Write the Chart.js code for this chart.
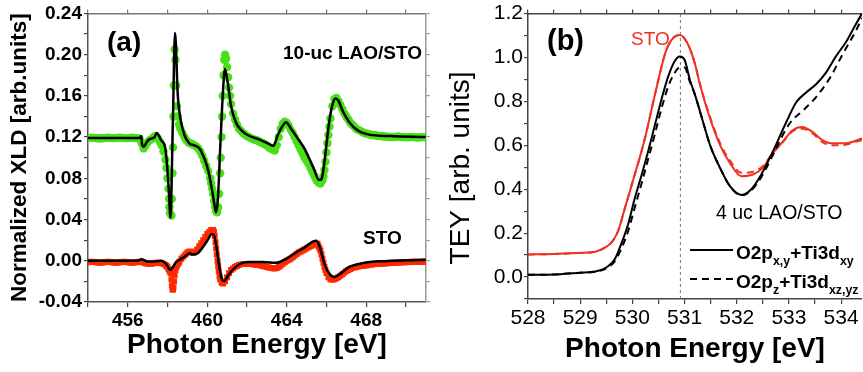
<!DOCTYPE html>
<html>
<head>
<meta charset="utf-8">
<script src="https://cdn.jsdelivr.net/npm/chart.js@4.4.1/dist/chart.umd.min.js"></script>
<style>
  body { margin: 0; background: #fff; width: 863px; height: 372px; overflow: hidden; position: relative;
         font-family: "Liberation Sans", Arial, sans-serif; }
  #wrapA { position: absolute; left: 0; top: 0; width: 430px; height: 372px; }
  #wrapB { position: absolute; left: 430px; top: 0; width: 433px; height: 372px; }
  .note { position: absolute; line-height: 1; white-space: nowrap; transform: translateY(-50%); color: #000; }
  .note sub { font-size: 0.65em; vertical-align: -0.5em; line-height: 0; }
  .key { position: absolute; height: 2px; background: #000; }
  .key.dash { background: repeating-linear-gradient(to right, #000 0 7px, transparent 7px 12px); }
</style>
</head>
<body>
<div id="wrapA"><canvas id="chartA" width="430" height="372"></canvas></div>
<div id="wrapB"><canvas id="chartB" width="433" height="372"></canvas></div>

<div class="note" style="left:107px; top:42px; font-size:28px; font-weight:bold;">(a)</div>
<div class="note" style="left:283px; top:52px; font-size:19px; font-weight:bold;">10-uc LAO/STO</div>
<div class="note" style="left:363px; top:237px; font-size:19px; font-weight:bold;">STO</div>

<div class="note" style="left:547px; top:40px; font-size:29px; font-weight:bold;">(b)</div>
<div class="note" style="left:631px; top:38px; font-size:19px; color:#f03020;">STO</div>
<div class="note" style="left:716px; top:213px; font-size:19.5px;">4 uc LAO/STO</div>
<div class="key" style="left:690px; top:249px; width:43px;"></div>
<div class="note" style="left:736px; top:252px; font-size:19px; font-weight:bold;">O2p<sub>x,y</sub>+Ti3d<sub>xy</sub></div>
<div class="key dash" style="left:690px; top:278px; width:43px;"></div>
<div class="note" style="left:736px; top:281px; font-size:19px; font-weight:bold;">O2p<sub>z</sub>+Ti3d<sub>xz,yz</sub></div>

<script>
// ---- panel (a): XLD, 10-uc LAO/STO (offset by 0.12) and STO ----
const lao10DataX = [454.0, 454.1, 454.2, 454.3, 454.4, 454.5, 454.6, 454.7, 454.8, 454.9, 455.0, 455.1, 455.2, 455.3,
  455.4, 455.5, 455.6, 455.7, 455.8, 455.9, 456.0, 456.1, 456.2, 456.3, 456.4, 456.5, 456.6,
  456.7, 456.8, 456.9, 457.0, 457.1, 457.2, 457.3, 457.4, 457.5, 457.6, 457.7, 457.8, 457.9, 457.95, 458.0, 458.05,
  458.08, 458.1, 458.13, 458.2, 458.22, 458.25, 458.28, 458.3, 458.32, 458.36, 458.4, 458.44, 458.48, 458.52, 458.58,
  458.65, 458.75, 458.85, 458.95, 459.05, 459.15, 459.25, 459.35, 459.45, 459.55, 459.65, 459.75, 459.85, 459.95,
  460.05, 460.15, 460.2, 460.25, 460.3, 460.35, 460.4, 460.45, 460.5, 460.55, 460.6, 460.65, 460.68, 460.72, 460.75,
  460.78, 460.82, 460.86, 460.9, 460.95, 461.0, 461.05, 461.1, 461.15, 461.2, 461.3, 461.4, 461.5, 461.6, 461.7,
  461.8, 461.9, 462.0, 462.1, 462.2, 462.3, 462.4, 462.5, 462.6, 462.7, 462.8, 462.9, 463.0, 463.1, 463.2, 463.3,
  463.4, 463.5, 463.6, 463.7, 463.8, 463.9, 464.0, 464.1, 464.2, 464.3, 464.4, 464.5, 464.6, 464.7, 464.8, 464.9,
  465.0, 465.1, 465.2, 465.3, 465.4, 465.5, 465.6, 465.7, 465.8, 465.85, 465.9, 465.95, 466.0, 466.05, 466.1, 466.15,
  466.2, 466.3, 466.4, 466.5, 466.6, 466.7, 466.8, 466.9, 467.0, 467.1, 467.2, 467.3, 467.4, 467.5, 467.6, 467.7,
  467.8, 467.9, 468.0, 468.1, 468.2, 468.3, 468.4, 468.5, 468.6, 468.7, 468.8, 468.9, 469.0, 469.1, 469.2, 469.3,
  469.4, 469.5, 469.6, 469.7, 469.8, 469.9, 470.0, 470.1, 470.2, 470.3, 470.4, 470.5, 470.6, 470.7, 470.8, 470.9, 471.0];
const lao10DataY = [0.119, 0.1192, 0.1195, 0.119, 0.119, 0.1188, 0.1185, 0.1188, 0.119, 0.1192, 0.1195, 0.1192, 0.119, 0.119,
  0.119, 0.1192, 0.1195, 0.1192, 0.119, 0.119, 0.119, 0.1192, 0.1195, 0.1192, 0.119, 0.1188, 0.1185,
  0.114, 0.109, 0.112, 0.115, 0.117, 0.118, 0.120, 0.121, 0.119, 0.116, 0.112, 0.106, 0.098, 0.090, 0.080, 0.070,
  0.060, 0.052, 0.046, 0.044, 0.060, 0.085, 0.110, 0.140, 0.170, 0.205, 0.195, 0.170, 0.150, 0.140, 0.132,
  0.128, 0.124, 0.120, 0.117, 0.115, 0.114, 0.113, 0.112, 0.111, 0.109, 0.106, 0.102, 0.097, 0.092,
  0.087, 0.080, 0.075, 0.070, 0.065, 0.058, 0.052, 0.048, 0.047, 0.052, 0.065, 0.085, 0.100, 0.120, 0.140,
  0.160, 0.180, 0.195, 0.200, 0.196, 0.188, 0.178, 0.168, 0.160, 0.152, 0.143, 0.137, 0.132, 0.128, 0.126,
  0.124, 0.1225, 0.121, 0.120, 0.119, 0.118, 0.1175, 0.117, 0.116, 0.115, 0.114, 0.113, 0.112, 0.110, 0.109, 0.108,
  0.107, 0.112, 0.120, 0.128, 0.133, 0.135, 0.134, 0.131, 0.127, 0.124, 0.120, 0.116, 0.112, 0.108, 0.104, 0.100,
  0.097, 0.094, 0.090, 0.086, 0.082, 0.078, 0.076, 0.075, 0.078, 0.082, 0.088, 0.096, 0.105, 0.114, 0.122, 0.130,
  0.138, 0.150, 0.157, 0.158, 0.155, 0.151, 0.147, 0.143, 0.140, 0.137, 0.134, 0.132, 0.130, 0.128, 0.127, 0.126,
  0.125, 0.124, 0.1235, 0.123, 0.1225, 0.122, 0.122, 0.1215, 0.121, 0.121, 0.1208, 0.1205, 0.1205, 0.1202, 0.120, 0.120,
  0.120, 0.1202, 0.1205, 0.1202, 0.120, 0.120, 0.1198, 0.120, 0.120, 0.1202, 0.120, 0.1198, 0.1195, 0.1198, 0.120, 0.120, 0.120];

const lao10FitX = [454.0, 456.6, 456.68, 456.72, 456.81, 456.95, 457.1, 457.35, 457.46, 457.68, 457.88, 457.98, 458.07,
  458.15, 458.27, 458.38, 458.52, 458.65, 458.85, 459.1, 459.35, 459.61, 459.86, 460.06, 460.22, 460.36, 460.44,
  460.53, 460.66, 460.78, 460.89, 461.03, 461.2, 461.45, 461.7, 462.03, 462.63, 463.05, 463.33, 463.55, 463.8, 463.97,
  464.22, 464.56, 464.89, 465.14, 465.39, 465.61, 465.73, 465.9, 466.11, 466.31, 466.45, 466.61, 466.81, 467.15,
  467.57, 468.15, 469.16, 471.0];
const lao10FitY = [0.1192, 0.1192, 0.121, 0.113, 0.1106, 0.115, 0.118, 0.120, 0.124, 0.117, 0.110, 0.093, 0.067,
  0.042, 0.134, 0.221, 0.160, 0.138, 0.122, 0.114, 0.112, 0.109, 0.099, 0.087, 0.071, 0.055, 0.047,
  0.058, 0.112, 0.160, 0.186, 0.173, 0.150, 0.134, 0.127, 0.122, 0.1176, 0.114, 0.1115, 0.122, 0.131, 0.1345,
  0.128, 0.1185, 0.109, 0.099, 0.088, 0.0786, 0.0786, 0.096, 0.131, 0.152, 0.1575, 0.155, 0.1457, 0.1345,
  0.1265, 0.1224, 0.121, 0.120];

const stoDataX = [454.0, 454.1, 454.2, 454.3, 454.4, 454.5, 454.6, 454.7, 454.8, 454.9, 455.0, 455.1, 455.2, 455.3,
  455.4, 455.5, 455.6, 455.7, 455.8, 455.9, 456.0, 456.1, 456.2, 456.3, 456.4, 456.5, 456.6,
  456.7, 456.8, 456.9, 457.0, 457.1, 457.2, 457.3, 457.4, 457.5, 457.6, 457.7, 457.8, 457.9, 457.95, 458.0, 458.05,
  458.1, 458.15, 458.2, 458.22, 458.25, 458.28, 458.3, 458.33, 458.36, 458.4, 458.45, 458.5, 458.55, 458.6, 458.7,
  458.8, 458.9, 459.0, 459.1, 459.2, 459.3, 459.4, 459.5, 459.6, 459.7, 459.8, 459.9, 460.0, 460.1, 460.2, 460.3,
  460.34, 460.38, 460.42, 460.45, 460.48, 460.52, 460.55, 460.58, 460.62, 460.65, 460.72, 460.8, 460.9, 461.0, 461.1,
  461.2, 461.3, 461.4, 461.5, 461.6, 461.7, 461.8, 461.9, 462.0, 462.1, 462.2, 462.3, 462.4, 462.5, 462.6, 462.7,
  462.8, 462.9, 463.0, 463.1, 463.2, 463.3, 463.4, 463.5, 463.6, 463.7, 463.8, 463.9, 464.0, 464.1, 464.2, 464.3,
  464.4, 464.5, 464.6, 464.7, 464.8, 464.9, 465.0, 465.1, 465.2, 465.3, 465.4, 465.5, 465.55, 465.6, 465.65, 465.7,
  465.75, 465.8, 465.85, 465.9, 465.95, 466.0, 466.1, 466.2, 466.3, 466.4, 466.5, 466.6, 466.7, 466.8, 466.9, 467.0,
  467.1, 467.2, 467.3, 467.4, 467.5, 467.6, 467.7, 467.8, 467.9, 468.0, 468.1, 468.2, 468.3, 468.4, 468.5, 468.6,
  468.7, 468.8, 468.9, 469.0, 469.1, 469.2, 469.3, 469.4, 469.5, 469.6, 469.7, 469.8, 469.9, 470.0, 470.1, 470.2,
  470.3, 470.4, 470.5, 470.6, 470.7, 470.8, 470.9, 471.0];
const stoDataY = [-0.0015, -0.0012, -0.001, -0.0012, -0.0015, -0.0018, -0.002, -0.0018, -0.0015, -0.0012, -0.001, -0.0012, -0.0015, -0.0018,
  -0.002, -0.0018, -0.0015, -0.0012, -0.001, -0.0012, -0.0015, -0.0018, -0.002, -0.0018, -0.0015, -0.0012, -0.001,
  -0.0012, -0.002, -0.0025, -0.003, -0.003, -0.003, -0.0025, -0.002, -0.002, -0.002, -0.0025, -0.003, -0.004, -0.005, -0.006, -0.008,
  -0.010, -0.012, -0.018, -0.024, -0.028, -0.028, -0.026, -0.020, -0.014, -0.009, -0.006, -0.004, -0.0025, -0.001, 0.002,
  0.004, 0.006, 0.008, 0.009, 0.008, 0.008, 0.009, 0.011, 0.014, 0.017, 0.020, 0.023, 0.026, 0.028, 0.030, 0.030,
  0.028, 0.024, 0.018, 0.012, 0.006, 0.000, -0.005, -0.010, -0.015, -0.018, -0.021, -0.022, -0.020, -0.016, -0.012,
  -0.009, -0.0075, -0.006, -0.005, -0.004, -0.0035, -0.003, -0.003, -0.003, -0.003, -0.003, -0.0035, -0.004, -0.004, -0.004, -0.0045,
  -0.005, -0.0055, -0.006, -0.0065, -0.007, -0.0072, -0.0075, -0.007, -0.006, -0.0045, -0.003, -0.0015, 0.000, 0.001, 0.002, 0.0035,
  0.005, 0.0065, 0.008, 0.009, 0.010, 0.011, 0.012, 0.013, 0.014, 0.015, 0.016, 0.0165, 0.0165, 0.014, 0.012, 0.010,
  0.006, 0.002, -0.002, -0.006, -0.009, -0.012, -0.016, -0.018, -0.0185, -0.018, -0.017, -0.016, -0.0145, -0.013, -0.0115, -0.010,
  -0.009, -0.008, -0.007, -0.0065, -0.006, -0.0055, -0.005, -0.005, -0.0045, -0.0045, -0.004, -0.004, -0.0035, -0.0035, -0.003, -0.003,
  -0.003, -0.0028, -0.0026, -0.0025, -0.0024, -0.0022, -0.002, -0.002, -0.002, -0.0018, -0.0016, -0.0015, -0.0015, -0.0015, -0.0012, -0.0012,
  -0.001, -0.001, -0.001, -0.0012, -0.001, -0.001, -0.001, -0.001];

const stoFitX = [454.0, 456.5, 456.68, 457.0, 457.35, 457.68, 457.93, 458.15, 458.27, 458.43, 458.69, 458.94, 459.1,
  459.27, 459.52, 459.77, 460.02, 460.22, 460.32, 460.44, 460.61, 460.73, 460.86, 461.03, 461.28, 461.61, 462.03,
  462.8, 463.47, 463.97, 464.47, 464.97, 465.31, 465.48, 465.64, 465.9, 466.15, 466.4, 466.65, 467.15, 467.82,
  468.82, 471.0];
const stoFitY = [0.0, 0.0, 0.0015, -0.0007, -0.0007, 0.0, -0.003, -0.009, -0.006, -0.0014, 0.0018, 0.005, 0.0073,
  0.006, 0.0073, 0.013, 0.020, 0.0258, 0.0258, 0.0163, -0.006, -0.0173, -0.0196, -0.015, -0.0087, -0.0036, -0.0013,
  -0.0013, -0.002, 0.0019, 0.008, 0.014, 0.0185, 0.0195, 0.0146, -0.003, -0.0125, -0.0157, -0.0132, -0.006, -0.0023,
  -0.0004, 0.0009];

const xTicksA = [456, 460, 464, 468];

// ---- panel (b): O K-edge TEY ----
const laoXyX = [528.0, 528.5, 529.0, 529.29, 529.54, 529.67, 529.79, 529.92, 530.05, 530.18, 530.3, 530.43, 530.56,
  530.69, 530.81, 530.91, 531.0, 531.1, 531.2, 531.3, 531.49, 531.68, 531.87, 532.09, 532.28, 532.47, 532.69, 532.95,
  533.14, 533.33, 533.52, 533.71, 533.9, 534.1, 534.29, 534.4];
const laoXyY = [0.010, 0.012, 0.020, 0.025, 0.050, 0.085, 0.153, 0.242, 0.362, 0.467, 0.571, 0.691, 0.811,
  0.916, 0.983, 1.005, 0.990, 0.900, 0.830, 0.751, 0.600, 0.497, 0.414, 0.374, 0.400, 0.467, 0.571, 0.706,
  0.796, 0.841, 0.878, 0.931, 1.005, 1.073, 1.155, 1.200];

const laoZX = [528.0, 528.5, 529.0, 529.29, 529.54, 529.67, 529.79, 529.92, 530.05, 530.18, 530.3, 530.43, 530.56,
  530.69, 530.81, 530.91, 531.0, 531.1, 531.2, 531.3, 531.49, 531.68, 531.87, 532.09, 532.28, 532.47, 532.69, 533.0,
  533.3, 533.52, 533.78, 534.03, 534.29, 534.4];
const laoZY = [0.010, 0.012, 0.020, 0.024, 0.045, 0.075, 0.130, 0.210, 0.320, 0.430, 0.535, 0.650, 0.770,
  0.870, 0.930, 0.955, 0.955, 0.890, 0.830, 0.751, 0.600, 0.497, 0.414, 0.372, 0.395, 0.455, 0.555, 0.695,
  0.765, 0.820, 0.905, 1.015, 1.125, 1.180];

const stoXyX = [528.0, 528.5, 529.0, 529.29, 529.48, 529.61, 529.73, 529.86, 529.99, 530.12, 530.24, 530.37, 530.5,
  530.63, 530.75, 530.91, 531.07, 531.2, 531.3, 531.49, 531.68, 531.87, 532.09, 532.31, 532.5, 532.69, 532.88,
  533.07, 533.26, 533.45, 533.64, 533.83, 534.08, 534.4];
const stoXyY = [0.103, 0.105, 0.110, 0.115, 0.135, 0.160, 0.212, 0.317, 0.422, 0.527, 0.631, 0.766, 0.900,
  1.020, 1.080, 1.103, 1.058, 0.970, 0.871, 0.721, 0.601, 0.519, 0.459, 0.467, 0.497, 0.564, 0.616,
  0.669, 0.684, 0.661, 0.624, 0.609, 0.609, 0.631];
const stoZY = [0.103, 0.105, 0.110, 0.115, 0.135, 0.160, 0.212, 0.317, 0.422, 0.527, 0.631, 0.766, 0.900,
  1.020, 1.080, 1.103, 1.058, 0.970, 0.875, 0.728, 0.610, 0.530, 0.475, 0.480, 0.505, 0.566, 0.614,
  0.664, 0.676, 0.655, 0.615, 0.600, 0.603, 0.625];

const peakLine = 530.92;

const FONT = '"Liberation Sans", Arial, sans-serif';
const GREEN = '#48e018';
const RED_A = '#ff2800';
const RED_B = '#f03020';

function pts(xs, ys) {
    return xs.map((x, i) => ({ x: x, y: ys[i] }));
}

function frameAxis(pos, min, max, step, size, color) {
    return {
        type: 'linear', position: pos, min: min, max: max,
        ticks: { display: false, stepSize: step, includeBounds: false },
        grid: { drawOnChartArea: false, drawTicks: true, tickLength: 4, color: color, lineWidth: 1.2 },
        border: { display: true, color: color, width: 1.5 },
        afterFit: s => { if (s.isHorizontal()) s.height = size; else s.width = size; }
    };
}

// panel (a)
new Chart(document.getElementById('chartA'), {
    type: 'scatter',
    data: {
        datasets: [
            { data: pts(lao10FitX, lao10FitY), showLine: true, borderColor: '#000', borderWidth: 2.5,
              pointRadius: 0, cubicInterpolationMode: 'monotone', order: 0 },
            { data: pts(stoFitX, stoFitY), showLine: true, borderColor: '#000', borderWidth: 2.5,
              pointRadius: 0, cubicInterpolationMode: 'monotone', order: 0 },
            { data: pts(lao10DataX, lao10DataY), showLine: false, pointRadius: 4.2, pointBorderWidth: 0,
              pointBackgroundColor: GREEN, order: 1 },
            { data: pts(stoDataX, stoDataY), showLine: false, pointStyle: 'rect', pointRadius: 4.2, pointBorderWidth: 0,
              pointBackgroundColor: RED_A, order: 1 }
        ]
    },
    options: {
        responsive: false,
        animation: false,
        layout: { padding: 0 },
        plugins: { legend: { display: false }, tooltip: { enabled: false } },
        scales: {
            x: {
                type: 'linear', position: 'bottom', min: 454, max: 471,
                ticks: {
                    stepSize: 2, includeBounds: false, autoSkip: false, maxRotation: 0, padding: 2,
                    color: '#000', font: { family: FONT, weight: 'bold', size: 19 },
                    callback: v => xTicksA.includes(v) ? v : ''
                },
                grid: { drawOnChartArea: false, drawTicks: true, tickLength: 5, color: '#444', lineWidth: 1.2 },
                border: { display: true, color: '#555', width: 1.5 },
                title: { display: true, text: 'Photon Energy [eV]', color: '#000',
                         font: { family: FONT, weight: 'bold', size: 28, lineHeight: 1 }, padding: { top: 0, bottom: 13 } },
                afterFit: s => { s.height = 70; }
            },
            x2: frameAxis('top', 454, 471, 2, 10, '#777'),
            y: {
                type: 'linear', position: 'left', min: -0.04, max: 0.24,
                ticks: {
                    stepSize: 0.02, autoSkip: false, padding: 2,
                    color: '#000', font: { family: FONT, weight: 'bold', size: 19 },
                    callback: (v, i) => i % 2 === 0 ? (Math.abs(v) < 1e-9 ? 0 : v).toFixed(2) : ''
                },
                grid: { drawOnChartArea: false, drawTicks: true, tickLength: 4, color: '#444', lineWidth: 1.2 },
                border: { display: true, color: '#555', width: 1.5 },
                title: { display: true, text: 'Normalized XLD [arb.units]', color: '#000',
                         font: { family: FONT, weight: 'bold', size: 22.5, lineHeight: 1 }, padding: { top: 9, bottom: 0 } },
                afterFit: s => { s.width = 88; }
            },
            y2: frameAxis('right', -0.04, 0.24, 0.02, 4, '#999')
        }
    }
});

// panel (b)
new Chart(document.getElementById('chartB'), {
    type: 'scatter',
    data: {
        datasets: [
            { data: pts(laoXyX, laoXyY), showLine: true, borderColor: '#000', borderWidth: 2,
              pointRadius: 0, cubicInterpolationMode: 'monotone', order: 0 },
            { data: pts(laoZX, laoZY), showLine: true, borderColor: '#000', borderWidth: 2, borderDash: [7, 5],
              pointRadius: 0, cubicInterpolationMode: 'monotone', order: 1 },
            { data: pts(stoXyX, stoXyY), showLine: true, borderColor: RED_B, borderWidth: 2,
              pointRadius: 0, cubicInterpolationMode: 'monotone', order: 2 },
            { data: pts(stoXyX, stoZY), showLine: true, borderColor: RED_B, borderWidth: 2, borderDash: [7, 5],
              pointRadius: 0, cubicInterpolationMode: 'monotone', order: 3 },
            { data: [{ x: peakLine, y: -0.1 }, { x: peakLine, y: 1.2 }], showLine: true, borderColor: '#777',
              borderWidth: 1, borderDash: [3, 3], pointRadius: 0, order: 4 }
        ]
    },
    options: {
        responsive: false,
        animation: false,
        layout: { padding: { right: 1 } },
        plugins: { legend: { display: false }, tooltip: { enabled: false } },
        scales: {
            x: {
                type: 'linear', position: 'bottom', min: 528, max: 534.4,
                ticks: {
                    stepSize: 0.5, includeBounds: false, autoSkip: false, maxRotation: 0, padding: 2,
                    color: '#000', font: { family: FONT, size: 21 },
                    callback: v => Math.abs(v - Math.round(v)) < 1e-6 ? Math.round(v) : ''
                },
                grid: { drawOnChartArea: false, drawTicks: true, tickLength: 5, color: '#444', lineWidth: 1.2 },
                border: { display: true, color: '#444', width: 1.5 },
                title: { display: true, text: 'Photon Energy [eV]', color: '#000',
                         font: { family: FONT, weight: 'bold', size: 28, lineHeight: 1 }, padding: { top: 0, bottom: 9 } },
                afterFit: s => { s.height = 73; }
            },
            x2: frameAxis('top', 528, 534.4, 0.5, 10, '#444'),
            y: {
                type: 'linear', position: 'left', min: -0.1, max: 1.2,
                ticks: {
                    stepSize: 0.1, autoSkip: false, padding: 1,
                    color: '#000', font: { family: FONT, size: 21 },
                    callback: v => Math.round(v * 10) % 2 === 0 ? (Math.abs(v) < 1e-9 ? 0 : v).toFixed(1) : ''
                },
                grid: { drawOnChartArea: false, drawTicks: true, tickLength: 4, color: '#444', lineWidth: 1.2 },
                border: { display: true, color: '#444', width: 1.5 },
                title: { display: true, text: 'TEY [arb. units]   ', color: '#000',
                         font: { family: FONT, size: 28, lineHeight: 1 }, padding: { top: 17, bottom: 0 } },
                afterFit: s => { s.width = 98; }
            }
        }
    }
});
</script>
</body>
</html>
